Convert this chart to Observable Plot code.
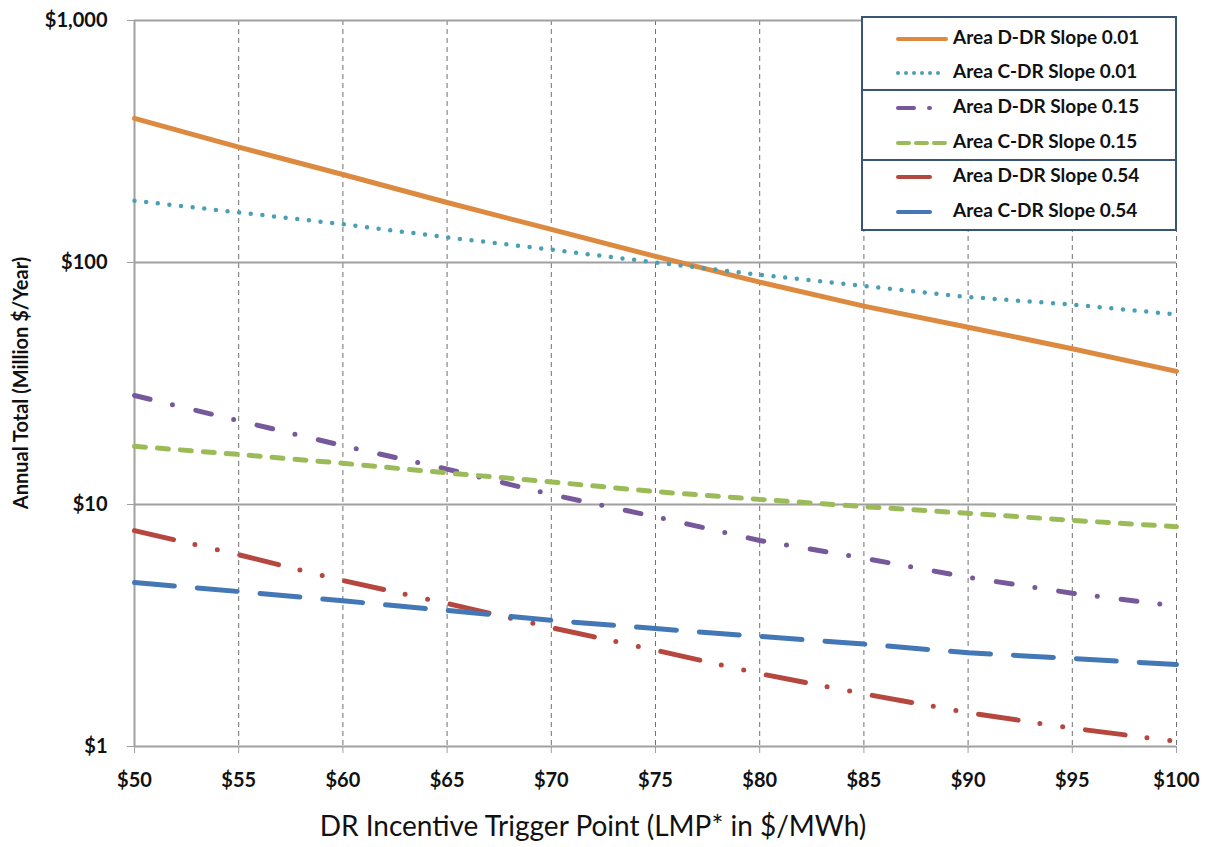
<!DOCTYPE html>
<html>
<head>
<meta charset="utf-8">
<script src="https://cdn.jsdelivr.net/npm/d3@7"></script>
<script src="https://cdn.jsdelivr.net/npm/@observablehq/plot@0.6"></script>
<style>
  html, body { margin: 0; padding: 0; background: #fff; }
  #chart { position: relative; width: 1210px; height: 847px; }
  svg { font-family: Lato, "Open Sans", sans-serif; }
</style>
</head>
<body>
<div id="chart"></div>
<script>
// ---- Data ----
const triggerPoints = [50, 55, 60, 65, 70, 75, 80, 85, 90, 95, 100];
const seriesNames = [
  "Area D-DR Slope 0.01",
  "Area C-DR Slope 0.01",
  "Area D-DR Slope 0.15",
  "Area C-DR Slope 0.15",
  "Area D-DR Slope 0.54",
  "Area C-DR Slope 0.54"
];
const areaD_slope001 = [394, 300, 231, 177, 137, 106, 83, 66, 54, 44, 35.5];
const areaC_slope001 = [180, 161, 144, 127, 113, 100, 89, 80, 72, 67, 61];
const areaD_slope015 = [28.2, 22.2, 17.5, 14.0, 11.0, 8.9, 7.1, 6.0, 5.0, 4.3, 3.8];
const areaC_slope015 = [17.4, 16.1, 14.8, 13.5, 12.4, 11.3, 10.5, 9.8, 9.2, 8.6, 8.1];
const areaD_slope054 = [7.8, 6.2, 4.85, 3.9, 3.1, 2.5, 2.0, 1.65, 1.38, 1.19, 1.05];
const areaC_slope054 = [4.76, 4.37, 4.0, 3.65, 3.32, 3.07, 2.85, 2.65, 2.44, 2.31, 2.18];
const yTicks = [1, 10, 100, 1000];

const seriesValues = [areaD_slope001, areaC_slope001, areaD_slope015, areaC_slope015, areaD_slope054, areaC_slope054];
const seriesColors = ["#DB8A40", "#4A9FB5", "#76599A", "#9BBB59", "#B5473F", "#4477B5"];
const seriesDash = ["none", "0,11.7", "16,23,0,24", "11,12", "40,22,0,23,0,23", "40,23"];
const seriesWidth = [5, 4.5, 5, 5, 5, 5];

// ---- Build marks ----
const lineMarks = seriesNames.map((name, i) => {
  const rows = triggerPoints.map((x, j) => ({x, y: seriesValues[i][j]}));
  return Plot.line(rows, {
    x: "x", y: "y",
    stroke: seriesColors[i],
    strokeWidth: seriesWidth[i],
    strokeDasharray: seriesDash[i],
    strokeLinecap: "round",
    strokeLinejoin: "round"
  });
});

const chart = Plot.plot({
  width: 1210,
  height: 847,
  marginLeft: 134,
  marginRight: 34,
  marginTop: 20,
  marginBottom: 101,
  style: {fontFamily: "Lato, 'Open Sans', sans-serif", background: "#fff"},
  x: {domain: [50, 100], label: null},
  y: {type: "log", domain: [1, 1000], label: null},
  marks: [
    Plot.ruleX(triggerPoints.slice(1), {stroke: "#707070", strokeWidth: 1, strokeDasharray: "5,4"}),
    Plot.ruleY(yTicks, {stroke: "#a0a0a0", strokeWidth: 2}),
    Plot.ruleX([50], {stroke: "#a0a0a0", strokeWidth: 2}),
    Plot.axisX({
      ticks: triggerPoints, tickSize: 7, tickPadding: 19,
      tickFormat: d => "$" + d,
      stroke: "#a0a0a0", fill: "#111", fontSize: 20, fontWeight: "bold", label: null
    }),
    Plot.axisY({
      ticks: yTicks, tickSize: 7, tickPadding: 20,
      tickFormat: d3.format("$,"),
      stroke: "#a0a0a0", fill: "#111", fontSize: 20, fontWeight: "bold", label: null
    }),
    ...lineMarks
  ]
});

document.getElementById("chart").appendChild(chart);

// ---- Titles and legend (text appended to the same SVG) ----
const svg = d3.select(chart);

svg.append("text")
  .attr("transform", "translate(23,383) rotate(-90)")
  .attr("text-anchor", "middle")
  .attr("dominant-baseline", "middle")
  .attr("font-size", 20)
  .attr("font-weight", "bold")
  .attr("fill", "#111")
  .text("Annual Total (Million $/Year)");

svg.append("text")
  .attr("x", 593)
  .attr("y", 829)
  .attr("text-anchor", "middle")
  .attr("dominant-baseline", "middle")
  .attr("font-size", 28)
  .attr("fill", "#111")
  .text("DR Incentive Trigger Point (LMP* in $/MWh)");

const leg = svg.append("g");
leg.append("rect")
  .attr("x", 862).attr("y", 17).attr("width", 314).attr("height", 213)
  .attr("fill", "#fff").attr("stroke", "#3A5474").attr("stroke-width", 2);
[90, 160].forEach(yy => {
  leg.append("line").attr("x1", 862).attr("x2", 1176).attr("y1", yy).attr("y2", yy)
    .attr("stroke", "#3A5474").attr("stroke-width", 2);
});
const rowY = [39, 73, 108, 143, 177, 212];
const sampleEnd = [946, 946, 930, 946, 930, 930];
const legendDash = ["none", "0,8", "16,15", "11,7", "none", "none"];
seriesNames.forEach((name, i) => {
  leg.append("line")
    .attr("x1", 898).attr("x2", sampleEnd[i])
    .attr("y1", rowY[i]).attr("y2", rowY[i])
    .attr("stroke", seriesColors[i]).attr("stroke-width", 4)
    .attr("stroke-linecap", "round")
    .attr("stroke-dasharray", legendDash[i]);
  leg.append("text")
    .attr("x", 953).attr("y", rowY[i])
    .attr("text-anchor", "start")
    .attr("dominant-baseline", "middle")
    .attr("font-size", 19).attr("font-weight", "bold").attr("fill", "#111")
    .text(name);
});
</script>
</body>
</html>
